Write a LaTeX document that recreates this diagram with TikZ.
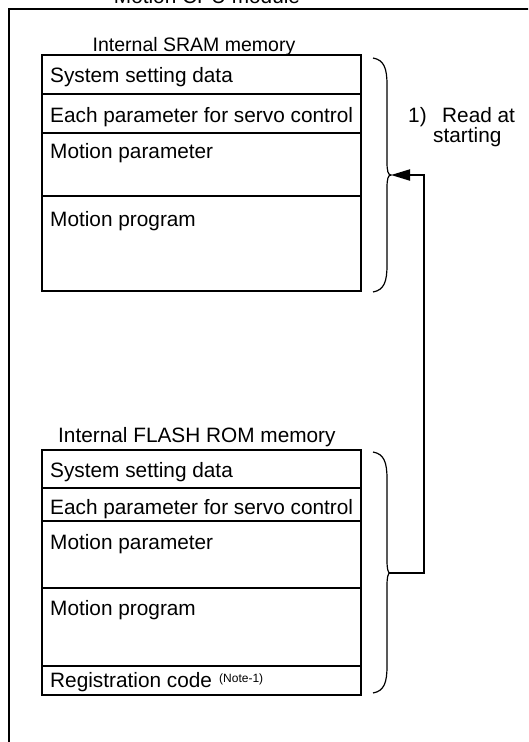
\documentclass[tikz,border=0pt]{standalone}
\usepackage{fontspec}
\setmainfont{Liberation Sans}
\usetikzlibrary{arrows.meta}
\begin{document}
\begin{tikzpicture}[x=1pt,y=-1pt,
  rowbox/.style={draw,line width=1.3pt,minimum width=319pt,inner sep=0pt,outer sep=0pt},
  txt/.style={anchor=base west,inner sep=0pt,font=\fontsize{20.8}{24}\selectfont},
  ttl/.style={anchor=base,inner sep=0pt,font=\fontsize{20.8}{24}\selectfont},
  bracestyle/.style={line width=1.2pt},
  readarrow/.style={line width=2pt,-{Triangle[length=19pt,width=11pt]}}]
\useasboundingbox (0,0) rectangle (528,742);
\clip (0,0) rectangle (528,742);
% outer module frame
\draw[line width=2pt] (8.5,760) -- (8.5,8.5) -- (540,8.5);
\node[ttl] (title) at (207,3) {Motion CPU module};
% SRAM
\node[ttl,font=\fontsize{19.5}{23}\selectfont] (sramlbl) at (194,51) {Internal SRAM memory};
\node[rowbox,minimum height=39pt] (s1) at (201.5,74.5) {};
\node[rowbox,minimum height=39pt] (s2) at (201.5,113.5) {};
\node[rowbox,minimum height=63pt] (s3) at (201.5,164.5) {};
\node[rowbox,minimum height=95pt] (s4) at (201.5,243.5) {};
\node[txt] (s1t) at (50,82) {System setting data};
\node[txt] (s2t) at (50,122) {Each parameter for servo control};
\node[txt] (s3t) at (50,158) {Motion parameter};
\node[txt] (s4t) at (50,226.5) {Motion program};
% FLASH
\node[txt] (flashlbl) at (58,442) {Internal FLASH ROM memory};
\node[rowbox,minimum height=38pt] (f1) at (201.5,469) {};
\node[rowbox,minimum height=33pt] (f2) at (201.5,504.5) {};
\node[rowbox,minimum height=67pt] (f3) at (201.5,554.5) {};
\node[rowbox,minimum height=78pt] (f4) at (201.5,627) {};
\node[rowbox,minimum height=29pt] (f5) at (201.5,680.5) {};
\node[txt] (f1t) at (50,477) {System setting data};
\node[txt] (f2t) at (50,514) {Each parameter for servo control};
\node[txt] (f3t) at (50,549) {Motion parameter};
\node[txt] (f4t) at (50,615) {Motion program};
\node[txt] (f5t) at (50,687) {Registration code};
\node[anchor=base west,inner sep=0pt,font=\fontsize{12}{14}\selectfont] (note) at (219,682) {(Note-1)};
% braces
\coordinate (sb) at (391,175);
\coordinate (fb) at (390,573);
\draw[bracestyle] (373,58) .. controls (384,60) and (387,68) .. (387,85)
  -- (387,162) .. controls (387,171) and (388,175) .. (sb)
  .. controls (388,175) and (387,179) .. (387,188)
  -- (387,265) .. controls (387,282) and (384,290) .. (373,292);
\draw[bracestyle] (373,452) .. controls (384,454) and (387,462) .. (387,479)
  -- (387,560) .. controls (387,569) and (388,573) .. (fb)
  .. controls (388,573) and (387,577) .. (387,586)
  -- (387,666) .. controls (387,683) and (384,691) .. (373,693);
% read arrow
\coordinate (turn) at (424,0);
\draw[readarrow] (fb) -- (fb -| turn) -- (sb -| turn) -- (sb);
\node[txt] (n1) at (408,122) {1)};
\node[txt] (n2) at (442,122) {Read at};
\node[txt] (n3) at (433,142) {starting};
\end{tikzpicture}
\end{document}
